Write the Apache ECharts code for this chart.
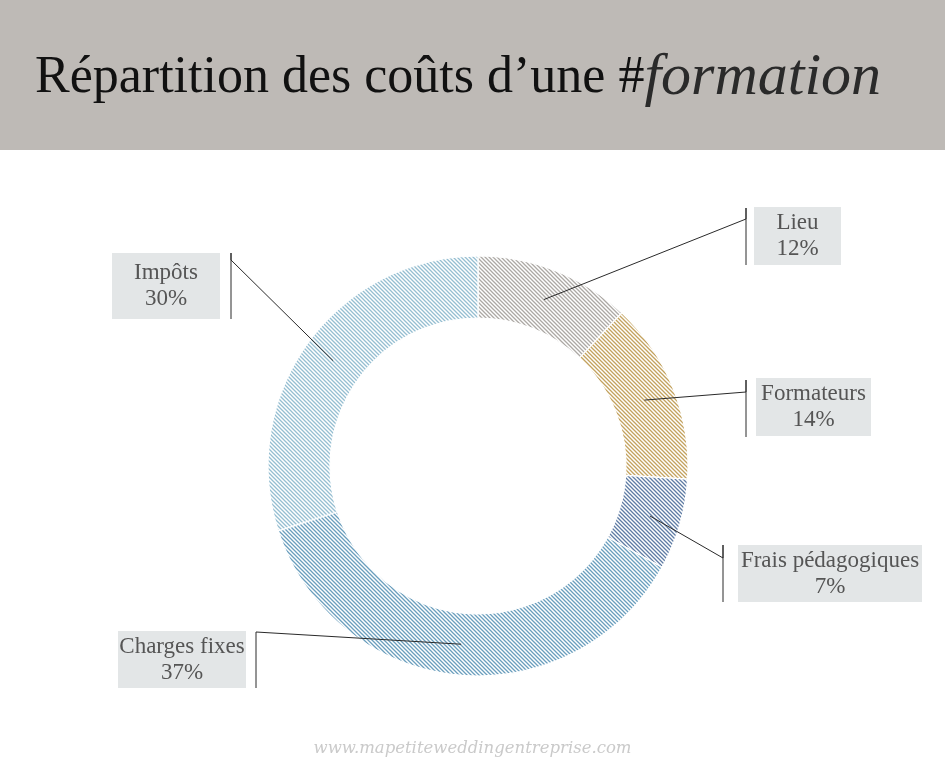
<!DOCTYPE html>
<html><head><meta charset="utf-8">
<script src="https://cdn.jsdelivr.net/npm/echarts@6/dist/echarts.min.js"></script>
<style>html,body{margin:0;padding:0;background:#fff}#chart{width:945px;height:771px}</style>
</head><body><div id="chart"></div>
<script>
// ---- data ----
const categories = ['Lieu', 'Formateurs', 'Frais pédagogiques', 'Charges fixes', 'Impôts'];
const percentages = [12, 14, 7, 37, 30];
const titleMain = 'Répartition des coûts d’une #';
const titleScript = 'formation';
const footerText = 'www.mapetiteweddingentreprise.com';

// ---- styles / layout ----
const stripeColors = ['#aca8a4', '#c3a25e', '#5f7ca4', '#6a9ebd', '#95bed1'];
const labelBoxes = [
  {left: 754, top: 207, w: 87,  h: 58, barX: 746, barTop: 208, barBottom: 265, meetY: 219},
  {left: 756, top: 378, w: 115, h: 58, barX: 746, barTop: 380, barBottom: 437, meetY: 392},
  {left: 738, top: 545, w: 184, h: 57, barX: 723, barTop: 545, barBottom: 602, meetY: 558},
  {left: 118, top: 631, w: 128, h: 57, barX: 256, barTop: 632, barBottom: 688, meetY: 632},
  {left: 112, top: 253, w: 108, h: 66, barX: 231, barTop: 253, barBottom: 319, meetY: 260}
];
const CENTER = [478, 466];

function hatch(color) {
  const c = document.createElement('canvas');
  c.width = 4; c.height = 4;
  const g = c.getContext('2d');
  g.fillStyle = '#fff'; g.fillRect(0, 0, 4, 4);
  g.strokeStyle = color; g.lineWidth = 1.3;
  g.beginPath();
  g.moveTo(-1, -1); g.lineTo(5, 5);
  g.moveTo(-1, 3); g.lineTo(1, 5);
  g.moveTo(3, -1); g.lineTo(5, 1);
  g.stroke();
  return c;
}

const ringData = categories.map((n, i) => ({
  name: n, value: percentages[i],
  itemStyle: {color: {image: hatch(stripeColors[i]), repeat: 'repeat'}}
}));
const labelData = categories.map((n, i) => {
  const b = labelBoxes[i];
  const pv = (b.h - 52) / 2;
  return {name: n, value: percentages[i], label: {width: b.w, padding: [pv, 0, pv, 0]}};
});

const chart = echarts.init(document.getElementById('chart'), null, {renderer: 'canvas'});
chart.setOption({
  animation: false,
  backgroundColor: '#ffffff',
  graphic: [
    {type: 'rect', left: 0, top: 0, z: -10, shape: {width: 945, height: 150}, style: {fill: '#bebab6'}},
    {type: 'text', left: 35, top: 48, style: {
      text: '{a|' + titleMain + '}{b|' + titleScript + '}',
      rich: {
        a: {fontFamily: '"Liberation Serif", serif', fontSize: 52, fill: '#111111'},
        b: {fontFamily: '"Liberation Serif", serif', fontSize: 60, fontStyle: 'italic', fill: '#2a2a2a'}
      }
    }},
    {type: 'text', left: 'center', top: 740, style: {
      text: footerText, fontFamily: '"DejaVu Serif", serif', fontStyle: 'italic', fontSize: 16.5, fill: '#cacaca'
    }}
  ],
  series: [
    {
      type: 'pie', z: 2, center: CENTER, radius: [148, 210], startAngle: 90, clockwise: true,
      silent: true, label: {show: false}, labelLine: {show: false},
      itemStyle: {borderColor: '#ffffff', borderWidth: 1.2},
      data: ringData
    },
    {
      type: 'pie', z: 5, center: CENTER, radius: [0, 179], startAngle: 90, clockwise: true,
      silent: true, avoidLabelOverlap: false,
      itemStyle: {color: 'rgba(0,0,0,0)'},
      label: {
        show: true, formatter: '{b}\n{c}%',
        fontFamily: '"Liberation Serif", serif', fontSize: 23, lineHeight: 26,
        color: '#555555', backgroundColor: '#e3e6e7', align: 'center'
      },
      labelLine: {show: true, showAbove: true, lineStyle: {color: '#2a2a2a', width: 1}},
      labelLayout: function (p) {
        const b = labelBoxes[p.dataIndex];
        const a = p.labelLinePoints ? p.labelLinePoints[0] : [b.barX, b.meetY];
        return {
          x: b.left + b.w / 2, y: b.top, align: 'center', verticalAlign: 'top',
          labelLinePoints: [a, [b.barX, b.meetY], [b.barX, b.barTop], [b.barX, b.barBottom]]
        };
      },
      data: labelData
    }
  ]
});
</script>
</body></html>
